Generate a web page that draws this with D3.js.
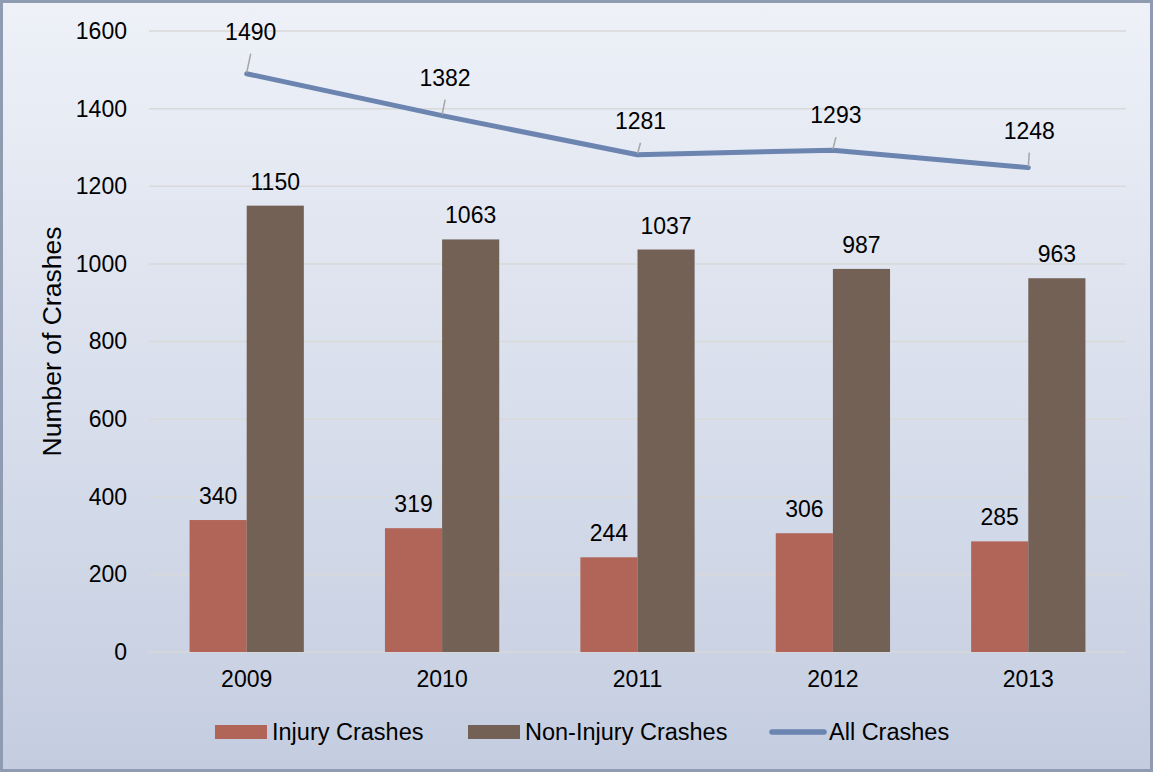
<!DOCTYPE html>
<html><head><meta charset="utf-8">
<script src="https://cdn.jsdelivr.net/npm/d3@7"></script>
<style>body{margin:0;}svg{display:block;font-family:"Liberation Sans",Arial,sans-serif;}</style>
</head><body>
<svg id="c" width="1153" height="772"></svg>
<script>
const years = ["2009","2010","2011","2012","2013"];
const injury = [340,319,244,306,285];
const nonInjury = [1150,1063,1037,987,963];
const allCrashes = [1490,1382,1281,1293,1248];
const yTicks = [0,200,400,600,800,1000,1200,1400,1600];
const seriesNames = ["Injury Crashes","Non-Injury Crashes","All Crashes"];
const colors = {inj:"#b06558", non:"#736156", line:"#6b84b0"};
// label offsets for line labels (dx, dy) relative to point
const lineLabelOffsets = [[4,-42],[3,-38],[3,-34],[3,-35],[1,-37]];
const FS = 23;

const svg = d3.select("#c");
const W=1153,H=772;
const defs = svg.append("defs");
const g1 = defs.append("linearGradient").attr("id","bg").attr("x1",0).attr("y1",0).attr("x2",0).attr("y2",1);
g1.append("stop").attr("offset","0%").attr("stop-color","#eef1f8");
g1.append("stop").attr("offset","100%").attr("stop-color","#c4cde0");
svg.append("rect").attr("x",1.5).attr("y",1.5).attr("width",W-3).attr("height",H-3)
  .attr("fill","url(#bg)").attr("stroke","#8e9bb0").attr("stroke-width",3);

const m={l:149,r:1126,t:31,b:652};
const x = d3.scaleBand().domain(years).range([m.l,m.r]).paddingInner(0).paddingOuter(0);
const y = d3.scaleLinear().domain([0,1600]).range([m.b,m.t]);
const inner = d3.scaleBand().domain(["inj","non"]).range([0,x.bandwidth()]).paddingInner(0).paddingOuter(0.71);

// gridlines
svg.append("g").selectAll("line").data(yTicks).join("line")
  .attr("x1",m.l).attr("x2",m.r).attr("y1",d=>y(d)).attr("y2",d=>y(d))
  .attr("stroke","#d9d9d9").attr("stroke-width",1.5);

// y axis
const ya = svg.append("g").attr("transform",`translate(${m.l},0)`)
  .call(d3.axisLeft(y).tickValues(yTicks).tickFormat(d3.format("d")).tickSize(0).tickPadding(22));
ya.select(".domain").remove();
ya.selectAll("text").attr("font-size",FS).attr("fill","#000").attr("font-family","Liberation Sans, Arial, sans-serif");

// x axis
const xa = svg.append("g").attr("transform",`translate(0,${m.b})`)
  .call(d3.axisBottom(x).tickSize(0).tickPadding(19));
xa.select(".domain").remove();
xa.selectAll("text").attr("font-size",FS).attr("fill","#000").attr("font-family","Liberation Sans, Arial, sans-serif");

// y title
svg.append("text").attr("transform",`translate(61,${(m.t+m.b)/2}) rotate(-90)`)
  .attr("text-anchor","middle").attr("font-size",26.5).attr("fill","#000").text("Number of Crashes");

// bars
const grp = svg.append("g");
years.forEach((yr,i)=>{
  const gx = x(yr);
  [["inj",injury[i]],["non",nonInjury[i]]].forEach(([k,v])=>{
    grp.append("rect").attr("x",gx+inner(k)).attr("y",y(v)).attr("width",inner.bandwidth()).attr("height",y(0)-y(v))
      .attr("fill",colors[k]);
    grp.append("text").attr("x",gx+inner(k)+inner.bandwidth()/2).attr("y",y(v)-16)
      .attr("text-anchor","middle").attr("font-size",FS).attr("fill","#000").text(v);
  });
});

// line
const cx = d=>x(d)+x.bandwidth()/2;
svg.append("path").datum(years.map((yr,i)=>[cx(yr),y(allCrashes[i])]))
  .attr("d",d3.line()).attr("fill","none").attr("stroke",colors.line).attr("stroke-width",5).attr("stroke-linecap","round").attr("stroke-linejoin","round");

// line labels with leaders
years.forEach((yr,i)=>{
  const px=cx(yr), py=y(allCrashes[i]);
  const [dx,dy]=lineLabelOffsets[i];
  svg.append("line").attr("x1",px).attr("y1",py-1).attr("x2",px+dx).attr("y2",py+dy+22)
    .attr("stroke","#a6a6a6").attr("stroke-width",1.5);
  svg.append("text").attr("x",px+dx).attr("y",py+dy+8).attr("text-anchor","middle")
    .attr("font-size",FS).attr("fill","#000").text(allCrashes[i]);
});

// legend
const lg = svg.append("g");
const ly = 732;
const items = [{x:215,type:"rect",c:colors.inj,t:seriesNames[0]},{x:468,type:"rect",c:colors.non,t:seriesNames[1]},{x:767,type:"line",c:colors.line,t:seriesNames[2]}];
items.forEach(it=>{
  if(it.type==="rect") lg.append("rect").attr("x",it.x).attr("y",ly-7).attr("width",52).attr("height",14).attr("fill",it.c);
  else lg.append("line").attr("x1",it.x+5).attr("x2",it.x+57).attr("y1",ly).attr("y2",ly).attr("stroke",it.c).attr("stroke-width",5.5).attr("stroke-linecap","round");
  lg.append("text").attr("x",it.type==="rect"?it.x+57:it.x+62).attr("y",ly+8).attr("font-size",23.5).attr("fill","#000").text(it.t);
});
</script>
</body></html>
